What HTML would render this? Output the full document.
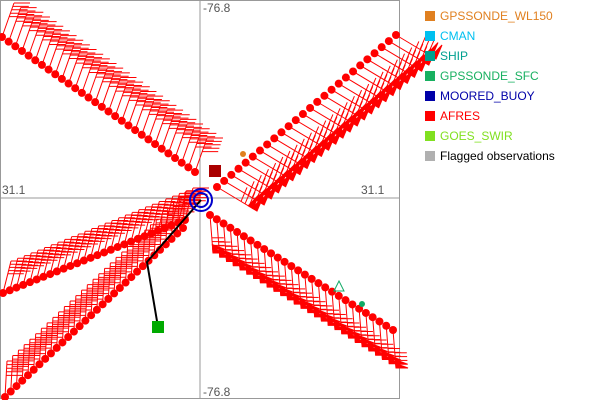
<!DOCTYPE html>
<html><head><style>
body{margin:0;background:#fff;width:600px;height:400px;overflow:hidden;font-family:"Liberation Sans",sans-serif;}
.lg{position:absolute;left:425px;font-size:12px;}
.lg span{display:inline-block;width:10px;height:10px;margin-right:5px;vertical-align:-1px}
</style></head><body>
<svg id="s" width="600" height="400" style="position:absolute;left:0;top:0">
<rect x="0.5" y="0.5" width="399" height="398" fill="#fff" stroke="#999"/>
<line x1="200" y1="0" x2="200" y2="398" stroke="#999"/>
<line x1="0" y1="198" x2="400" y2="198" stroke="#999"/>
<g id="g" stroke="#f00" stroke-width="1" fill="#f00"></g>
<polyline points="158,327 147,262 201,200" fill="none" stroke="#000" stroke-width="2"/>
<rect x="152" y="321" width="12" height="12" fill="#0a0"/>
<rect x="209" y="165" width="12" height="12" fill="#a00"/>
<circle cx="201" cy="200" r="7" fill="none" stroke="#00c" stroke-width="2"/>
<circle cx="201" cy="200" r="11" fill="none" stroke="#00c" stroke-width="2"/>
<circle cx="243" cy="154" r="3" fill="#e08020"/>
<circle cx="362" cy="304" r="3" fill="#1a6"/>
<polygon points="339,281 334,291 344,291" fill="none" stroke="#1a6"/>
<text x="203" y="12" font-size="12" fill="#555">-76.8</text>
<text x="2" y="194" font-size="12" fill="#555">31.1</text>
<text x="361" y="194" font-size="12" fill="#555">31.1</text>
<text x="203" y="396" font-size="12" fill="#555">-76.8</text>
</svg>
<div class="lg" style="top:9px;color:#e08020"><span style="background:#e08020"></span>GPSSONDE_WL150</div>
<div class="lg" style="top:29px;color:#00c0f0"><span style="background:#00c0f0"></span>CMAN</div>
<div class="lg" style="top:49px;color:#00a090"><span style="background:#00a090"></span>SHIP</div>
<div class="lg" style="top:69px;color:#18b060"><span style="background:#18b060"></span>GPSSONDE_SFC</div>
<div class="lg" style="top:89px;color:#0000a8"><span style="background:#0000a8"></span>MOORED_BUOY</div>
<div class="lg" style="top:109px;color:#f00"><span style="background:#f00"></span>AFRES</div>
<div class="lg" style="top:129px;color:#80e020"><span style="background:#80e020"></span>GOES_SWIR</div>
<div class="lg" style="top:149px;color:#000"><span style="background:#b0b0b0"></span>Flagged observations</div>
<script>
var g=document.getElementById('g'),h='';
function track(x0,y0,x1,y1,n,dx,dy,fx,fy,flag){
 for(var i=0;i<n;i++){var t=i/(n-1),x=x0+(x1-x0)*t,y=y0+(y1-y0)*t;
  h+='<circle cx="'+x+'" cy="'+y+'" r="4" stroke="none"/>';
  var ex=x+dx,ey=y+dy;h+='<line x1="'+x+'" y1="'+y+'" x2="'+ex+'" y2="'+ey+'"/>';
  for(var k=0;k<5;k++){var px=ex-dx*k*0.1,py=ey-dy*k*0.1;
   if(flag&&k<2)h+='<polygon points="'+px+','+py+' '+(px+fx)+','+(py+fy)+' '+(px-dx*0.12)+','+(py-dy*0.12)+'"/>';
   else h+='<line x1="'+px+'" y1="'+py+'" x2="'+(px+fx)+'" y2="'+(py+fy)+'"/>';}
 }}
track(2,37,195,172,30,12,-34,16,0,false);
track(217,187,396,35,26,40,24,6,-14,true);
track(210,215,393,330,28,3,38,12,0,true);
track(3,293,185,220,28,8,-32,16,0,false);
track(5,397,183,228,32,2,-36,16,0,false);
g.innerHTML=h;
</script>
</body></html>
